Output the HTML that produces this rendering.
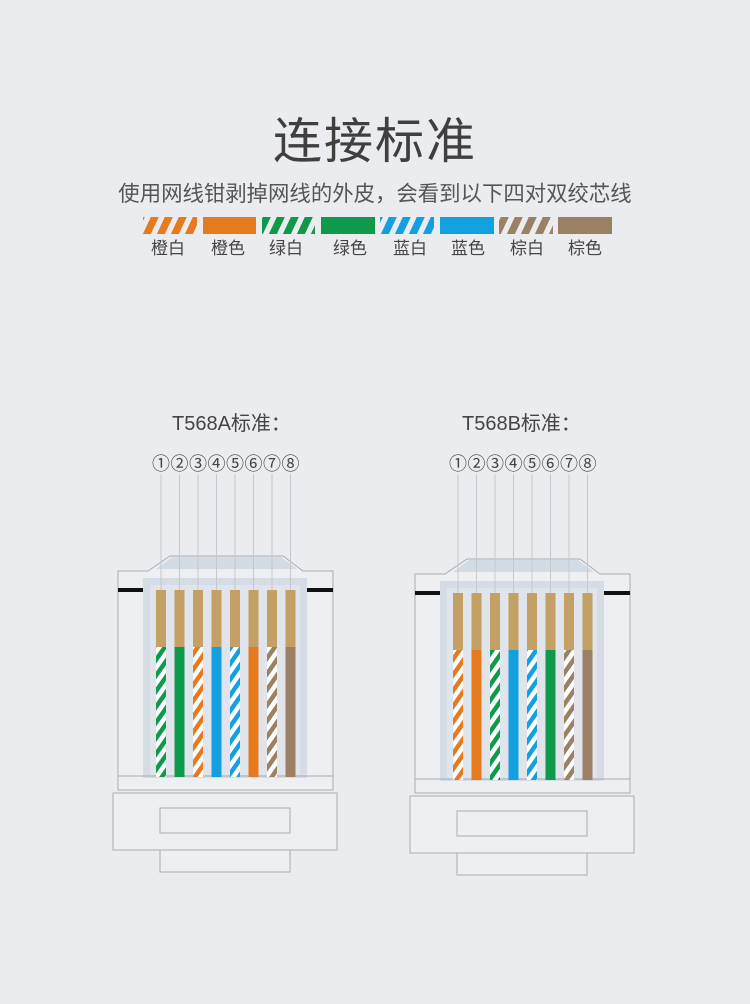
<!DOCTYPE html>
<html><head><meta charset="utf-8"><style>
html,body{margin:0;padding:0;background:#ebecef;}
body{width:750px;height:1004px;overflow:hidden;position:relative;font-family:"Liberation Sans","Noto Sans CJK SC",sans-serif;color:#444;}
.t{position:absolute;white-space:nowrap;}
.n{position:absolute;width:20px;text-align:center;top:452px;font-size:18px;font-family:"Noto Sans CJK SC",sans-serif;color:#444;line-height:22px;}
</style></head><body>
<div class="t" style="left:0;width:750px;text-align:center;top:102px;font-size:49px;color:#3f3f3f;letter-spacing:2px;">连接标准</div>
<div class="t" style="left:0;width:750px;text-align:center;top:177px;font-size:21.4px;color:#555;">使用网线钳剥掉网线的外皮，会看到以下四对双绞芯线</div>
<div class="t" style="left:151px;top:234px;font-size:17px;">橙白</div>
<div class="t" style="left:211px;top:234px;font-size:17px;">橙色</div>
<div class="t" style="left:269px;top:234px;font-size:17px;">绿白</div>
<div class="t" style="left:333px;top:234px;font-size:17px;">绿色</div>
<div class="t" style="left:393px;top:234px;font-size:17px;">蓝白</div>
<div class="t" style="left:451px;top:234px;font-size:17px;">蓝色</div>
<div class="t" style="left:510px;top:234px;font-size:17px;">棕白</div>
<div class="t" style="left:568px;top:234px;font-size:17px;">棕色</div>
<div class="t" style="left:172px;top:407px;font-size:20px;color:#444;">T568A标准：</div>
<div class="t" style="left:462px;top:407px;font-size:20px;color:#444;">T568B标准：</div>
<div id="nums"></div>
<svg id="s" width="750" height="1004" style="position:absolute;left:0;top:0" xmlns="http://www.w3.org/2000/svg">
<defs>
<pattern id="po" width="9" height="9" patternUnits="userSpaceOnUse" patternTransform="rotate(35)"><rect width="9" height="9" fill="#fff"/><rect width="4.5" height="9" fill="#e67a1f"/></pattern>
<pattern id="pg" width="9" height="9" patternUnits="userSpaceOnUse" patternTransform="rotate(35)"><rect width="9" height="9" fill="#fff"/><rect width="4.5" height="9" fill="#0e9a4a"/></pattern>
<pattern id="pb" width="9" height="9" patternUnits="userSpaceOnUse" patternTransform="rotate(35)"><rect width="9" height="9" fill="#fff"/><rect width="4.5" height="9" fill="#12a0e0"/></pattern>
<pattern id="pn" width="9" height="9" patternUnits="userSpaceOnUse" patternTransform="rotate(35)"><rect width="9" height="9" fill="#fff"/><rect width="4.5" height="9" fill="#9c8064"/></pattern>
<pattern id="so" width="14" height="18" patternUnits="userSpaceOnUse" patternTransform="skewX(-25)"><rect width="14" height="18" fill="#ebecef"/><rect width="8" height="18" fill="#e67a1f"/></pattern>
<pattern id="sg" width="14" height="18" patternUnits="userSpaceOnUse" patternTransform="skewX(-25)"><rect width="14" height="18" fill="#ebecef"/><rect width="8" height="18" fill="#0e9a4a"/></pattern>
<pattern id="sb" width="14" height="18" patternUnits="userSpaceOnUse" patternTransform="skewX(-25)"><rect width="14" height="18" fill="#ebecef"/><rect width="8" height="18" fill="#12a0e0"/></pattern>
<pattern id="sn" width="14" height="18" patternUnits="userSpaceOnUse" patternTransform="skewX(-25)"><rect width="14" height="18" fill="#ebecef"/><rect width="8" height="18" fill="#9c8064"/></pattern>
</defs>
<rect x="143" y="217" width="54" height="17" fill="url(#so)"/>
<rect x="203" y="217" width="53" height="17" fill="#e67a1f"/>
<rect x="262" y="217" width="53" height="17" fill="url(#sg)"/>
<rect x="321" y="217" width="54" height="17" fill="#0e9a4a"/>
<rect x="380" y="217" width="54" height="17" fill="url(#sb)"/>
<rect x="440" y="217" width="54" height="17" fill="#12a0e0"/>
<rect x="499" y="217" width="54" height="17" fill="url(#sn)"/>
<rect x="558" y="217" width="54" height="17" fill="#9c8064"/>
</svg>
<script>
var s=document.getElementById('s');var ns='http://www.w3.org/2000/svg';
function el(t,a){var e=document.createElementNS(ns,t);for(var k in a)e.setAttribute(k,a[k]);s.appendChild(e);return e;}
function conn(dx,dy,cols){
 var L=118+dx,R=333+dx;
 el('path',{d:'M'+L+' '+(571+dy)+'H'+(148+dx)+'L'+(170+dx)+' '+(556+dy)+'H'+(283+dx)+'L'+(303+dx)+' '+(571+dy)+'H'+R+'V'+(790+dy)+'H'+L+'Z',fill:'#eeeff2',stroke:'#a9abb0','stroke-width':1});
 el('path',{d:'M'+(172+dx)+' '+(557+dy)+'H'+(281+dx)+'L'+(297+dx)+' '+(569+dy)+'H'+(156+dx)+'Z',fill:'#d3dbe4'});
 el('rect',{x:143+dx,y:578+dy,width:164,height:200,fill:'#d5dce5'});
 el('rect',{x:150+dx,y:585+dy,width:150,height:190,fill:'#e0e5ec'});
 el('rect',{x:118+dx,y:588+dy,width:25,height:4,fill:'#111'});
 el('rect',{x:307+dx,y:588+dy,width:26,height:4,fill:'#111'});
 el('line',{x1:L,y1:776+dy,x2:R,y2:776+dy,stroke:'#a9abb0'});
 el('rect',{x:113+dx,y:793+dy,width:224,height:57,fill:'#eeeff2',stroke:'#a9abb0'});
 el('rect',{x:160+dx,y:808+dy,width:130,height:25,fill:'#eeeff2',stroke:'#a9abb0'});
 el('rect',{x:160+dx,y:850+dy,width:130,height:22,fill:'#eeeff2',stroke:'#a9abb0'});
 var N=['①','②','③','④','⑤','⑥','⑦','⑧'];
 for(var i=0;i<8;i++){var c=161+dx+i*18.5;
  var d=document.createElement('div');d.className='n';d.style.left=(c-10)+'px';d.textContent=N[i];document.getElementById('nums').appendChild(d);
  el('line',{x1:c,y1:474,x2:c,y2:590+dy,stroke:'#c5c8cd','stroke-width':1});
  el('rect',{x:c-5,y:590+dy,width:10,height:57,fill:'#c4a064'});
  el('rect',{x:c-5,y:647+dy,width:10,height:130,fill:cols[i]});
 }
}
conn(0,0,['url(#pg)','#0e9a4a','url(#po)','#12a0e0','url(#pb)','#e67a1f','url(#pn)','#9c8064']);
conn(297,3,['url(#po)','#e67a1f','url(#pg)','#12a0e0','url(#pb)','#0e9a4a','url(#pn)','#9c8064']);
</script>
</body></html>
